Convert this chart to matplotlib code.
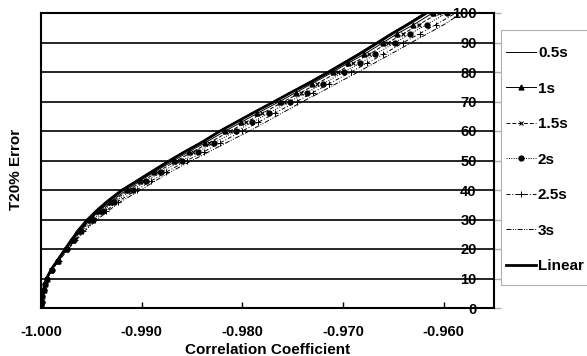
import matplotlib
matplotlib.use("Agg")
import matplotlib.pyplot as plt
from matplotlib.patches import Rectangle

plt.rcParams['font.family'] = ['Liberation Sans', 'DejaVu Sans']
plt.rcParams['font.weight'] = 'bold'

# T20% error (y) levels shared by all series
t20_error = [0, 1, 2, 4, 6, 8, 10, 13, 16, 20, 23, 26, 30, 33, 36, 40, 43, 46,
             50, 53, 56, 60, 63, 66, 70, 73, 76, 80, 83, 86, 90, 93, 96, 100]

# Correlation coefficient for each series
r_05s = [-1.00000, -0.99999, -0.99996, -0.99988, -0.99976, -0.99962, -0.99945, -0.99900,
         -0.99840, -0.99760, -0.99700, -0.99650, -0.99550, -0.99460, -0.99360, -0.99210,
         -0.99060, -0.98920, -0.98730, -0.98580, -0.98420, -0.98230, -0.98070, -0.97910,
         -0.97690, -0.97530, -0.97370, -0.97160, -0.97010, -0.96860, -0.96670, -0.96530,
         -0.96380, -0.96190]
r_1s = [-1.00000, -0.99999, -0.99996, -0.99988, -0.99975, -0.99961, -0.99944, -0.99898,
        -0.99836, -0.99754, -0.99690, -0.99620, -0.99510, -0.99420, -0.99310, -0.99150,
        -0.99020, -0.98880, -0.98680, -0.98530, -0.98370, -0.98170, -0.98010, -0.97850,
        -0.97630, -0.97470, -0.97310, -0.97100, -0.96950, -0.96790, -0.96600, -0.96460,
        -0.96300, -0.96110]
r_15s = [-1.00000, -0.99999, -0.99996, -0.99987, -0.99975, -0.99961, -0.99943, -0.99896,
         -0.99833, -0.99750, -0.99680, -0.99610, -0.99500, -0.99400, -0.99290, -0.99130,
         -0.98990, -0.98850, -0.98650, -0.98490, -0.98330, -0.98120, -0.97960, -0.97800,
         -0.97590, -0.97420, -0.97260, -0.97050, -0.96900, -0.96740, -0.96550, -0.96400,
         -0.96250, -0.96050]
r_2s = [-1.00000, -0.99999, -0.99995, -0.99987, -0.99974, -0.99960, -0.99942, -0.99894,
        -0.99829, -0.99743, -0.99670, -0.99600, -0.99480, -0.99380, -0.99270, -0.99090,
        -0.98960, -0.98810, -0.98600, -0.98440, -0.98280, -0.98060, -0.97900, -0.97740,
        -0.97530, -0.97360, -0.97200, -0.96990, -0.96830, -0.96680, -0.96480, -0.96330,
        -0.96170, -0.95970]
r_25s = [-1.00000, -0.99999, -0.99995, -0.99986, -0.99974, -0.99959, -0.99941, -0.99892,
         -0.99824, -0.99737, -0.99660, -0.99580, -0.99460, -0.99350, -0.99240, -0.99050,
         -0.98910, -0.98760, -0.98550, -0.98380, -0.98220, -0.98000, -0.97840, -0.97680,
         -0.97460, -0.97300, -0.97140, -0.96920, -0.96760, -0.96600, -0.96400, -0.96240,
         -0.96080, -0.95880]
r_3s = [-1.00000, -0.99999, -0.99995, -0.99986, -0.99973, -0.99958, -0.99940, -0.99890,
        -0.99820, -0.99730, -0.99650, -0.99570, -0.99440, -0.99330, -0.99210, -0.99010,
        -0.98870, -0.98720, -0.98500, -0.98330, -0.98160, -0.97930, -0.97770, -0.97610,
        -0.97400, -0.97230, -0.97070, -0.96850, -0.96690, -0.96530, -0.96320, -0.96160,
        -0.96000, -0.95820]
r_linear = [-1.00000, -0.99999, -0.99996, -0.99988, -0.99976, -0.99962, -0.99945, -0.99900,
            -0.99840, -0.99760, -0.99700, -0.99630, -0.99530, -0.99440, -0.99340, -0.99190,
            -0.99050, -0.98910, -0.98720, -0.98570, -0.98410, -0.98220, -0.98060, -0.97900,
            -0.97680, -0.97520, -0.97350, -0.97140, -0.96990, -0.96840, -0.96650, -0.96510,
            -0.96360, -0.96170]

x_ticks = [-1.000, -0.990, -0.980, -0.970, -0.960]
x_tick_labels = ['-1.000', '-0.990', '-0.980', '-0.970', '-0.960']
y_ticks = [0, 10, 20, 30, 40, 50, 60, 70, 80, 90, 100]

W, H = 587, 356
fig = plt.figure(figsize=(W / 100, H / 100), dpi=100)
ax = fig.add_axes([41 / W, 1 - 308 / H, (494 - 41) / W, (308 - 13) / H])

ax.plot(r_05s, t20_error, color='black', lw=0.7, ls='-', label='0.5s')
ax.plot(r_1s, t20_error, color='black', lw=0.7, ls='-', marker='^', ms=3.5, label='1s')
ax.plot(r_15s, t20_error, color='black', lw=0.7, ls=(0, (4, 2)), marker='x', ms=3.5,
        mew=0.8, label='1.5s')
ax.plot(r_2s, t20_error, color='black', lw=0.7, ls=(0, (1, 1.5)), marker='o', ms=3.5,
        label='2s')
ax.plot(r_25s, t20_error, color='black', lw=0.7, ls=(0, (4, 2, 1, 2)), marker='+', ms=4.5,
        mew=0.7, label='2.5s')
ax.plot(r_3s, t20_error, color='black', lw=0.7, ls=(0, (5, 1.5, 1, 1.5, 1, 1.5)),
        label='3s')
ax.plot(r_linear, t20_error, color='black', lw=2.0, ls='-', label='Linear')

ax.set_xlim(-1.0, -0.955)
ax.set_ylim(0, 100)

ax.set_xticks(x_ticks)
ax.set_xticklabels(x_tick_labels, fontsize=10.5, fontweight='bold')
ax.tick_params(axis='x', direction='in', length=4, width=1, pad=12)

ax.set_yticks(y_ticks)
ax.yaxis.tick_right()
ax.tick_params(axis='y', direction='out', length=5, width=1, color='#b0b0b0',
               labelsize=10.5, pad=-17.5)
for lbl in ax.get_yticklabels():
    lbl.set_horizontalalignment('right')
    lbl.set_fontweight('bold')

ax.grid(axis='y', color='black', lw=1.2)
ax.set_axisbelow(True)
for s in ax.spines.values():
    s.set_linewidth(1.5)
    s.set_color('black')

ax.set_xlabel('Correlation Coefficient', fontsize=11, fontweight='bold', labelpad=0)
ax.set_ylabel('T20% Error', fontsize=11, fontweight='bold')
ax.yaxis.set_label_position('left')
ax.yaxis.set_label_coords(-0.040, 0.47)
ax.xaxis.set_label_coords(0.5, -0.118)

# legend frame (extends past the right edge of the figure, as in the reference)
fig.add_artist(Rectangle((501 / W, 1 - 285 / H), (620 - 501) / W, (285 - 30) / H,
                         transform=fig.transFigure, fill=False,
                         edgecolor='#b0b0b0', lw=0.8))
leg = fig.legend(loc='upper left', bbox_to_anchor=(506 / W, 1 - 46 / H),
                 bbox_transform=fig.transFigure, borderaxespad=0, borderpad=0,
                 frameon=False, handlelength=1.96, handletextpad=0.13,
                 labelspacing=1.41, prop={'weight': 'bold', 'size': 11})

fig.savefig('out.png', dpi=100)
